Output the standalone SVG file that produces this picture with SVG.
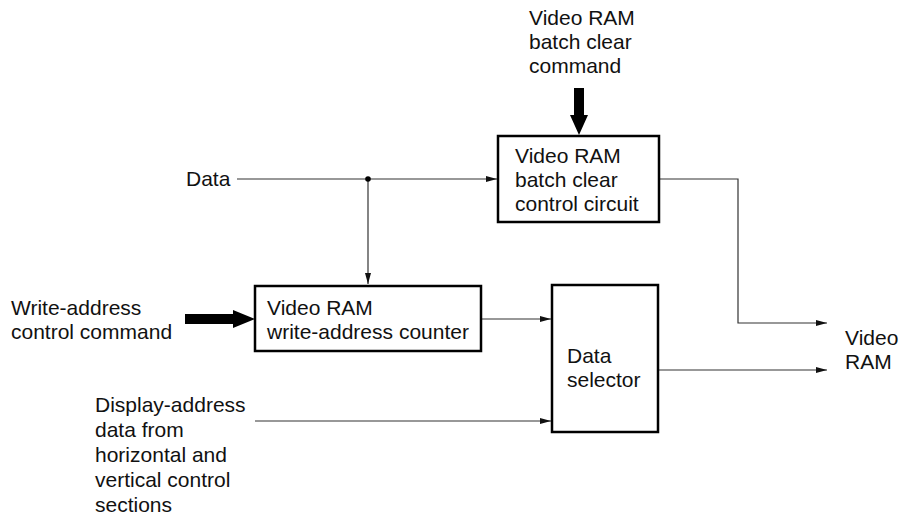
<svg xmlns="http://www.w3.org/2000/svg" width="901" height="517" viewBox="0 0 901 517">
<style>
text{font-family:"Liberation Sans",Arial,sans-serif;font-size:21px;fill:#111}
.box{fill:#fff;stroke:#000;stroke-width:2.5}
.ln{fill:none;stroke:#333;stroke-width:1.2}
.big{fill:#000}
</style>
<defs>
<marker id="ah" markerWidth="12" markerHeight="8" refX="11" refY="4" orient="auto" markerUnits="userSpaceOnUse">
<path d="M0,1 L11,4 L0,7 Z" fill="#111"/>
</marker>
</defs>
<rect width="901" height="517" fill="#fff"/>
<g id="connectors">
<path class="ln" d="M237,179 H497" marker-end="url(#ah)"/>
<path class="ln" d="M368,179 V284" marker-end="url(#ah)"/>
<circle cx="368" cy="179" r="2.8" fill="#000"/>
<path class="ln" d="M481,319 H551" marker-end="url(#ah)"/>
<path class="ln" d="M255,421 H551" marker-end="url(#ah)"/>
<path class="ln" d="M659,179 H738 V323 H827" marker-end="url(#ah)"/>
<path class="ln" d="M658,370 H827" marker-end="url(#ah)"/>
<path class="big" d="M574,88 H584 V115 H588 L579,135 L570,115 H574 Z"/>
<path class="big" d="M185,314 H233 V310 L255,319 L233,328 V324 H185 Z"/>
</g>
<g id="top-label">
<text x="529" y="25">Video RAM</text>
<text x="529" y="49">batch clear</text>
<text x="529" y="73">command</text>
</g>
<g id="data-label"><text x="186" y="186">Data</text></g>
<g id="write-label">
<text x="11" y="315">Write-address</text>
<text x="11" y="339">control command</text>
</g>
<g id="display-label">
<text x="95" y="412">Display-address</text>
<text x="95" y="437">data from</text>
<text x="95" y="462">horizontal and</text>
<text x="95" y="487">vertical control</text>
<text x="95" y="512">sections</text>
</g>
<g id="vram-label">
<text x="845" y="345">Video</text>
<text x="845" y="369">RAM</text>
</g>
<g id="batch-clear">
<rect class="box" x="498" y="136" width="161" height="86"/>
<text x="515" y="163">Video RAM</text>
<text x="515" y="187">batch clear</text>
<text x="515" y="211">control circuit</text>
</g>
<g id="write-counter">
<rect class="box" x="255" y="286" width="226" height="65"/>
<text x="267" y="315">Video RAM</text>
<text x="267" y="339">write-address counter</text>
</g>
<g id="data-selector">
<rect class="box" x="552" y="285" width="106" height="147"/>
<text x="567" y="363">Data</text>
<text x="567" y="387">selector</text>
</g>
</svg>
